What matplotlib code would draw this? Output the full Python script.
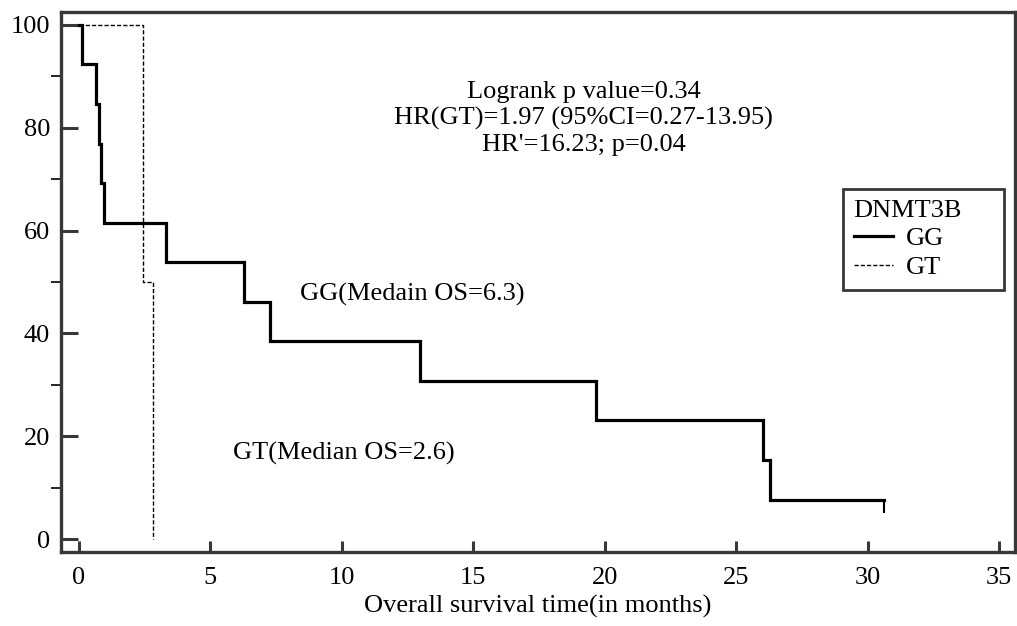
import matplotlib
matplotlib.use("Agg")
import matplotlib.pyplot as plt
from matplotlib.lines import Line2D

plt.rcParams['font.family'] = ['Liberation Serif', 'DejaVu Serif']

# GG group: step drop times and survival (%)
gg_time = [0, 0.1, 0.65, 0.77, 0.86, 0.95, 3.3, 6.28, 7.27, 12.97, 19.67, 26.0, 26.3, 30.6]
gg_surv = [100, 92.3, 84.6, 76.9, 69.2, 61.5, 53.8, 46.2, 38.5, 30.8, 23.1, 15.4, 7.7, 7.7]
gg_censor_time = [30.6]
gg_censor_surv = [7.7]

# GT group
gt_time = [0, 2.43, 2.8]
gt_surv = [100, 50, 0]

x_ticks = [0, 5, 10, 15, 20, 25, 30, 35]
y_ticks = [0, 20, 40, 60, 80, 100]
y_minor = [10, 30, 50, 70, 90]

stats_lines = ["Logrank p value=0.34",
               "HR(GT)=1.97 (95%CI=0.27-13.95)",
               "HR'=16.23; p=0.04"]

FS = 19
spine_c = '#383838'

fig = plt.figure(figsize=(10.17, 6.26), dpi=100)
ax = fig.add_axes([61/1017, 1 - 552/626, (1015-61)/1017, (552-12)/626])

ax.step(gg_time, gg_surv, where='post', color='black', lw=2.3, label='GG', solid_joinstyle='miter')
ax.plot(gg_censor_time, gg_censor_surv, ls='none', marker=3, ms=9, mew=1.5, color='black')
ax.step(gt_time, gt_surv, where='post', color='black', lw=1.0, ls=(0, (3, 1.5)), label='GT')

ax.set_xlim(-0.68, 35.6)
ax.set_ylim(-2.5, 102.5)
ax.set_xticks(x_ticks)
ax.set_yticks(y_ticks)
ax.set_yticks(y_minor, minor=True)
ax.tick_params(axis='both', direction='in', colors=spine_c, labelcolor='black', labelsize=FS)
ax.tick_params(axis='y', which='major', length=12, width=2.2, pad=8)
ax.tick_params(axis='y', which='minor', length=7, width=1.2)
ax.tick_params(axis='x', which='major', length=8, width=2.2, pad=11)
for s in ax.spines.values():
    s.set_color(spine_c)
    s.set_linewidth(2.4)

ax.set_xlabel("Overall survival time(in months)", fontsize=FS, labelpad=4)

for i, t in enumerate(stats_lines):
    ax.text(19.2, 87.0 - i * 5.15, t, fontsize=FS, ha='center', va='center')
ax.text(8.4, 47.5, "GG(Medain OS=6.3)", fontsize=FS, ha='left', va='center')
ax.text(5.86, 16.7, "GT(Median OS=2.6)", fontsize=FS, ha='left', va='center')

handles = [Line2D([], [], color='black', lw=2.3),
           Line2D([], [], color='black', lw=1.0, ls=(0, (3, 1.5)))]
leg_x = (843 - 61) / 954
leg_w = (1004 - 843) / 954
leg_top = (552 - 189) / 540
leg = ax.legend(handles, ['GG', 'GT'], title='DNMT3B', fontsize=FS, title_fontsize=FS,
                loc='upper left', bbox_to_anchor=(leg_x, leg_top - 0.3, leg_w, 0.3),
                mode='expand', frameon=True, fancybox=False, edgecolor=spine_c, framealpha=1,
                handlelength=1.5, handletextpad=0.5, borderpad=0.4, labelspacing=0.2,
                borderaxespad=0, alignment='left')
leg.get_frame().set_linewidth(2.0)

fig.savefig('out.png', dpi=100)
